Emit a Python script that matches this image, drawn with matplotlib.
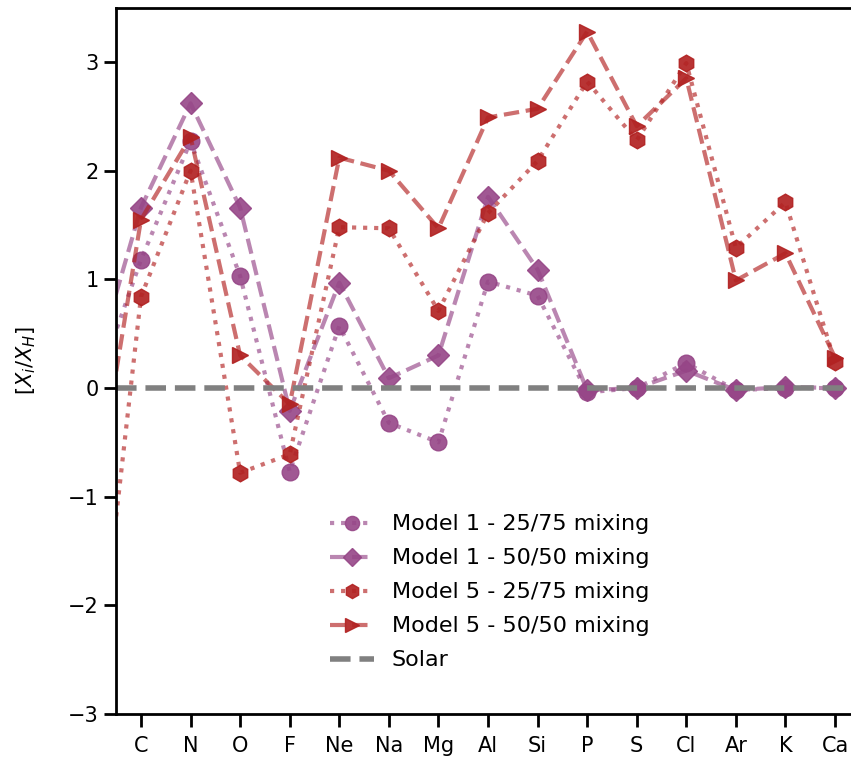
import numpy as np
import matplotlib
matplotlib.use('Agg')
import matplotlib.pyplot as plt

# Elements (first one sits just outside the visible x-range)
elements = ['B', 'C', 'N', 'O', 'F', 'Ne', 'Na', 'Mg', 'Al', 'Si', 'P', 'S', 'Cl', 'Ar', 'K', 'Ca']

m1_25 = [-0.12, 1.18, 2.27, 1.03, -0.77, 0.57, -0.32, -0.50, 0.98, 0.85, -0.04, 0.0, 0.23, -0.02, 0.0, 0.0]
m1_50 = [0.08, 1.66, 2.62, 1.66, -0.21, 0.97, 0.09, 0.30, 1.76, 1.09, -0.02, 0.0, 0.16, -0.02, 0.01, 0.0]
m5_25 = [-3.2, 0.84, 2.00, -0.78, -0.61, 1.48, 1.47, 0.71, 1.61, 2.09, 2.82, 2.28, 2.99, 1.29, 1.71, 0.24]
m5_50 = [-1.25, 1.55, 2.31, 0.30, -0.15, 2.12, 2.00, 1.47, 2.49, 2.57, 3.28, 2.41, 2.85, 0.99, 1.24, 0.28]

x = np.arange(len(elements)) - 1

purple = (150/255, 70/255, 135/255)
red = (178/255, 34/255, 34/255)

def rgba(c, a):
    return (c[0], c[1], c[2], a)

fig = plt.figure(figsize=(8.51, 7.63), dpi=100)
ax = fig.add_axes([116.2/851, 49/763, 743.6/851, 706.3/763])

ax.plot(x, m1_25, ':', marker='o', color=rgba(purple, 0.65), mfc=rgba(purple, 0.9),
        mec=rgba(purple, 0.9), lw=3, ms=12, label='Model 1 - 25/75 mixing')
ax.plot(x, m1_50, '--', marker='D', color=rgba(purple, 0.65), mfc=rgba(purple, 0.9),
        mec=rgba(purple, 0.9), lw=3, ms=11, label='Model 1 - 50/50 mixing')
ax.plot(x, m5_25, ':', marker='h', color=rgba(red, 0.65), mfc=rgba(red, 0.92),
        mec=rgba(red, 0.92), lw=3, ms=12, label='Model 5 - 25/75 mixing')
ax.plot(x, m5_50, '--', marker='>', color=rgba(red, 0.65), mfc=rgba(red, 0.92),
        mec=rgba(red, 0.92), lw=3, ms=12, label='Model 5 - 50/50 mixing')
ax.axhline(0, color='grey', ls='--', lw=4, label='Solar')

ax.set_xticks(x)
ax.set_xticklabels(elements)
ax.set_xlim(-0.5, 14.5)
ax.set_ylim(-3, 3.5)
ax.set_yticks([-3, -2, -1, 0, 1, 2, 3])
ax.set_ylabel(r'$[X_i/X_H]$', fontsize=15, labelpad=22)

for s in ax.spines.values():
    s.set_linewidth(2)
ax.tick_params(axis='both', labelsize=15, length=9, width=2)
ax.tick_params(axis='x', pad=7)

ax.legend(loc='upper left', bbox_to_anchor=(0.26, 0.311), frameon=False, fontsize=16,
          handlelength=2, labelspacing=0.63, markerscale=0.85)

fig.savefig('out.png', dpi=100)
